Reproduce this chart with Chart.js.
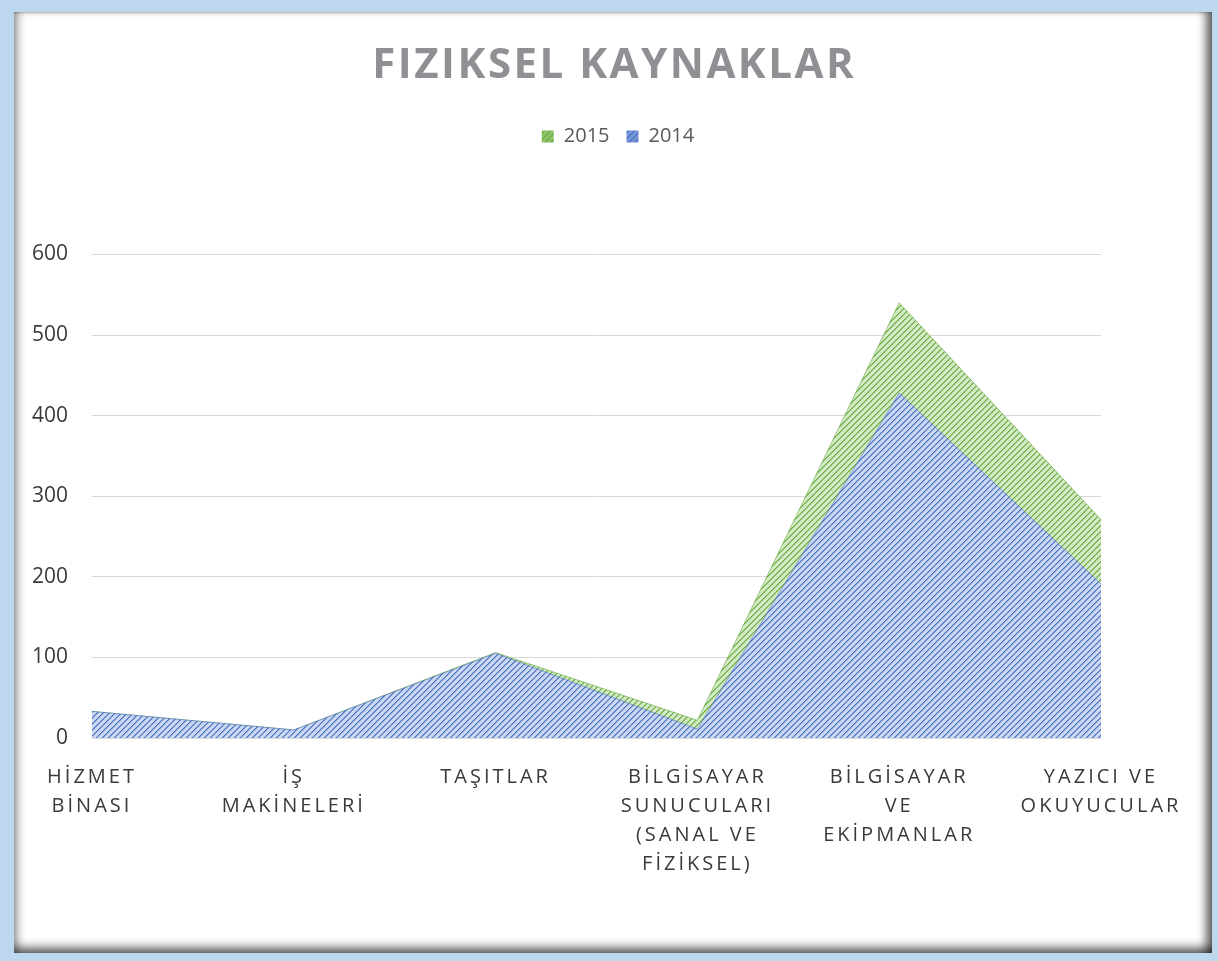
<!DOCTYPE html>
<html>
<head>
<meta charset="utf-8">
<script src="https://cdn.jsdelivr.net/npm/chart.js@4.4.1/dist/chart.umd.min.js"></script>
<style>
  html, body { margin: 0; padding: 0; background: #bdd7ee; width: 1218px; height: 961px; overflow: hidden; }
  #frame { position: absolute; left: 14px; top: 12px; width: 1198px; height: 941px; background: #ffffff;
    box-shadow: inset 8px 0 8px -4px rgba(0,0,0,0.35), inset -10px 0 10px -4px rgba(0,0,0,0.6), inset 0 -10px 10px -4px rgba(0,0,0,0.55), inset 0 2px 2px -1px rgba(0,0,0,0.15); }
  #wrap { position: absolute; left: 0; top: 0; width: 1218px; height: 961px; }
</style>
</head>
<body>
<div id="frame"></div>
<div id="wrap"><canvas id="c" width="1218" height="961"></canvas></div>
<script>
const categories = [
  ["HİZMET", "BİNASI"],
  ["İŞ", "MAKİNELERİ"],
  ["TAŞITLAR"],
  ["BİLGİSAYAR", "SUNUCULARI", "(SANAL VE", "FİZİKSEL)"],
  ["BİLGİSAYAR", "VE", "EKİPMANLAR"],
  ["YAZICI VE", "OKUYUCULAR"]
];
const values2014 = [33, 10, 105, 11, 428, 191];
const values2015 = [33, 10, 106, 22, 540, 271];
const yTicks = [0, 100, 200, 300, 400, 500, 600];
const titleText = "FIZIKSEL KAYNAKLAR";

function makePattern(bg, dark, mid) {
  const c = document.createElement('canvas');
  c.width = 6; c.height = 6;
  const g = c.getContext('2d');
  g.fillStyle = bg; g.fillRect(0, 0, 6, 6);
  for (let t = 0; t < 6; t++) {
    g.fillStyle = mid; g.fillRect(t, (6 - t) % 6, 1, 1);
    g.fillStyle = dark; g.fillRect(t, 5 - t, 1, 1);
  }
  return g.createPattern(c, 'repeat');
}
const bluePat = makePattern('#cbd7f0', '#4870c4', '#86a2da');
const greenPat = makePattern('#d3e8c5', '#67aa3e', '#9ccb7e');
const blueLegend = makePattern('#7594d6', '#4a70c2', '#5b80cc');
const greenLegend = makePattern('#8cc46a', '#69a944', '#78b654');

const TITLE_SPACING = 2.5;
const spacingPlugin = {
  id: 'spacing',
  beforeDraw(chart) {
    const tb = chart.titleBlock;
    if (tb && !tb._sp) {
      tb.draw = function () {
        const c = this.ctx, o = this.options;
        const f = Chart.helpers.toFont(o.font);
        c.save();
        c.font = f.string;
        c.letterSpacing = TITLE_SPACING + 'px';
        c.fillStyle = o.color;
        c.textAlign = 'left';
        c.textBaseline = 'middle';
        const w = c.measureText(o.text).width - TITLE_SPACING;
        const cx = (this.left + this.right) / 2 + 4;
        c.fillText(o.text, cx - w / 2, this.top + 41 + f.lineHeight / 2);
        c.restore();
      };
      tb._sp = true;
    }
    const lg = chart.legend;
    if (lg && !lg._sp) {
      const d = lg.draw.bind(lg);
      lg.draw = function (a) { const c = this.ctx; c.save(); c.translate(9, 0); d(a); c.restore(); };
      lg._sp = true;
    }
    const xs = chart.scales.x;
    if (xs && !xs._sp) {
      const d = xs.drawLabels.bind(xs);
      xs.drawLabels = function (a) { const c = this.ctx; c.save(); c.letterSpacing = '3px'; d(a); c.restore(); };
      xs._sp = true;
    }
  }
};

new Chart(document.getElementById('c'), {
  type: 'line',
  data: {
    labels: categories,
    datasets: [
      { label: '2014', data: values2014, backgroundColor: bluePat, borderColor: 'rgba(72,112,196,0.6)', borderWidth: 1, fill: 'origin', pointRadius: 0, tension: 0 },
      { label: '2015', data: values2015, backgroundColor: greenPat, borderColor: 'rgba(103,170,62,0.6)', borderWidth: 1, fill: 'origin', pointRadius: 0, tension: 0 }
    ]
  },
  options: {
    responsive: false,
    animation: false,
    layout: { padding: { left: 32, right: 32, top: 0, bottom: 57 } },
    plugins: {
      title: {
        display: true, text: titleText, color: '#8f9094',
        font: { family: "'Open Sans', sans-serif", size: 42, weight: 'bold' },
        padding: { top: 41, bottom: 18 }
      },
      subtitle: {
        display: true, text: ' ', weight: 500, font: { size: 10 }, padding: { top: 86, bottom: 0 }
      },
      legend: {
        display: true, reverse: true,
        labels: {
          boxWidth: 12, boxHeight: 12, padding: 17, color: '#595959',
          font: { family: "'Open Sans', sans-serif", size: 20 },
          generateLabels: (chart) => {
            const items = Chart.defaults.plugins.legend.labels.generateLabels(chart);
            items.forEach(it => {
              it.fillStyle = it.text === '2015' ? greenLegend : blueLegend;
              it.lineWidth = 0;
            });
            return items;
          }
        }
      },
      tooltip: { enabled: false }
    },
    scales: {
      x: {
        offset: false,
        grid: { display: false, drawTicks: false },
        border: { display: false },
        ticks: { autoSkip: false, maxRotation: 0, minRotation: 0, padding: 25, color: '#3a3a3a',
          font: { family: "'Open Sans', sans-serif", size: 20, lineHeight: 1.45 } }
      },
      y: {
        min: 0, max: 600,
        afterBuildTicks: (s) => { s.ticks = yTicks.map(v => ({ value: v })); },
        afterFit: (s) => { s.width = 60; },
        grid: { color: '#d9d9d9', lineWidth: 1, drawTicks: false },
        border: { display: false },
        ticks: { padding: 24, color: '#3a3a3a', font: { family: "'Open Sans', sans-serif", size: 21 } }
      },
      yRight: {
        position: 'right', display: true, min: 0, max: 600,
        afterFit: (s) => { s.width = 85; },
        grid: { display: false, drawTicks: false },
        border: { display: false },
        ticks: { display: false }
      }
    }
  },
  plugins: [spacingPlugin]
});
</script>
</body>
</html>
